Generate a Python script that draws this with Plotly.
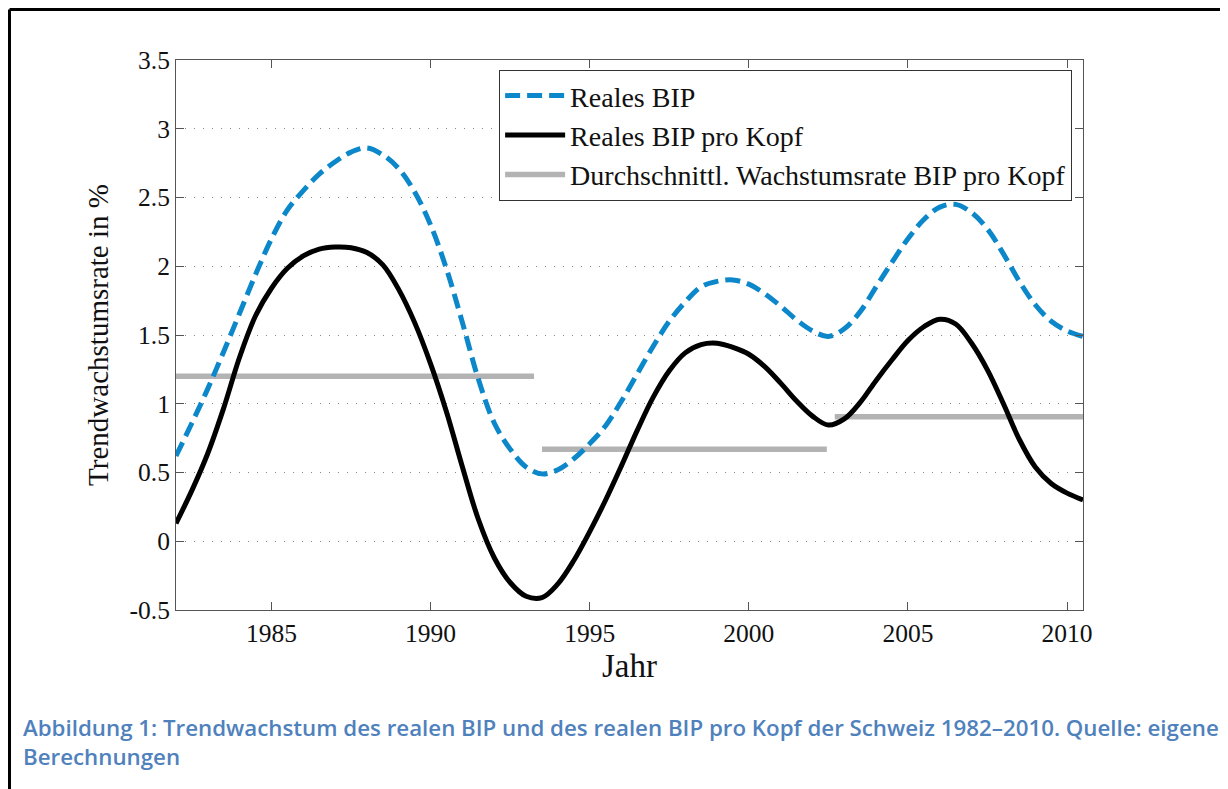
import plotly.graph_objects as go

years = [1982.0 + 0.5 * i for i in range(58)]
reales_bip = [0.62, 0.86, 1.11, 1.38, 1.66, 1.94, 2.20, 2.41, 2.55, 2.67,
              2.76, 2.83, 2.86, 2.81, 2.71, 2.54, 2.30, 1.98, 1.59, 1.18,
              0.86, 0.67, 0.54, 0.49, 0.52, 0.60, 0.71, 0.84, 1.02, 1.22,
              1.42, 1.60, 1.74, 1.85, 1.89, 1.90, 1.87, 1.80, 1.71, 1.61,
              1.53, 1.49, 1.545, 1.67, 1.85, 2.03, 2.20, 2.34, 2.43, 2.45,
              2.39, 2.27, 2.09, 1.89, 1.72, 1.60, 1.53, 1.49]
bip_pro_kopf = [0.13, 0.37, 0.64, 0.97, 1.34, 1.64, 1.84, 1.985, 2.075, 2.125,
                2.14, 2.135, 2.10, 2.01, 1.83, 1.59, 1.29, 0.94, 0.54, 0.16,
                -0.12, -0.30, -0.40, -0.41, -0.31, -0.14, 0.07, 0.30, 0.55, 0.81,
                1.05, 1.24, 1.37, 1.43, 1.44, 1.41, 1.36, 1.27, 1.15, 1.02,
                0.91, 0.845, 0.89, 1.01, 1.17, 1.32, 1.46, 1.56, 1.615, 1.58,
                1.44, 1.245, 1.00, 0.74, 0.54, 0.42, 0.35, 0.30]

avg_start = [1982.0, 1993.5, 2002.7]
avg_end = [1993.25, 2002.45, 2010.5]
avg_value = [1.2, 0.67, 0.905]

x_ticks = [1985, 1990, 1995, 2000, 2005, 2010]
y_ticks = [-0.5, 0, 0.5, 1, 1.5, 2, 2.5, 3, 3.5]
y_ticktext = ["-0.5", "0", "0.5", "1", "1.5", "2", "2.5", "3", "3.5"]

SERIF = "Liberation Serif, Times New Roman, serif"

gx, gy = [], []
for s, e, v in zip(avg_start, avg_end, avg_value):
    gx += [s, e, None]
    gy += [v, v, None]

fig = go.Figure()
fig.add_trace(go.Scatter(x=gx, y=gy, mode="lines", name="Durchschnittl. Wachstumsrate BIP pro Kopf",
                         line=dict(color="#b3b3b3", width=5.5), legendrank=3))
fig.add_trace(go.Scatter(x=years, y=reales_bip, mode="lines", name="Reales BIP",
                         line=dict(color="#0c87c9", width=5, dash="15px,7px", shape="spline"),
                         legendrank=1))
fig.add_trace(go.Scatter(x=years, y=bip_pro_kopf, mode="lines", name="Reales BIP pro Kopf",
                         line=dict(color="#000000", width=5, shape="spline"), legendrank=2))

axis_common = dict(showline=True, linecolor="#555555", linewidth=1, mirror="ticks",
                   ticks="inside", ticklen=8, tickcolor="#555555", zeroline=False,
                   tickfont=dict(family=SERIF, size=25.5, color="#111111"))

fig.update_xaxes(range=[1982, 2010.5], tickvals=x_ticks, showgrid=False,
                 title=dict(text="Jahr", font=dict(family=SERIF, size=33, color="#111111"), standoff=0),
                 **axis_common)
fig.update_yaxes(range=[-0.5, 3.5], tickvals=y_ticks, ticktext=y_ticktext,
                 showgrid=True, gridcolor="#8a8a8a", griddash="1px,8px", gridwidth=1,
                 title=dict(text="Trendwachstumsrate in %", font=dict(family=SERIF, size=29, color="#111111"),
                            standoff=12),
                 **axis_common)

fig.update_layout(
    width=1220, height=781,
    margin=dict(l=168, r=145, t=52, b=179),
    plot_bgcolor="white", paper_bgcolor="white",
    showlegend=True,
    legend=dict(x=0.988, y=0.982, xanchor="right", yanchor="top",
                bgcolor="white", bordercolor="#333333", borderwidth=1,
                font=dict(family=SERIF, size=28, color="#111111"),
                tracegroupgap=0, itemwidth=60),
    shapes=[
        dict(type="line", xref="paper", yref="paper", x0=-0.18357, x1=1.2, y0=1.09182, y1=1.09182,
             line=dict(color="black", width=3)),
        dict(type="line", xref="paper", yref="paper", x0=-0.18357, x1=-0.18357, y0=1.09182, y1=-0.4,
             line=dict(color="black", width=3)),
    ],
    annotations=[
        dict(xref="paper", yref="paper", x=-0.1709, y=-0.182, xanchor="left", yanchor="top",
             align="left", showarrow=False,
             text="Abbildung 1: Trendwachstum des realen BIP und des realen BIP pro Kopf der Schweiz 1982–2010. Quelle: eigene<br>Berechnungen",
             font=dict(family="Open Sans, sans-serif", size=22.3, color="#4f81bd", weight=600)),
    ],
)

fig.write_html("out.html")
